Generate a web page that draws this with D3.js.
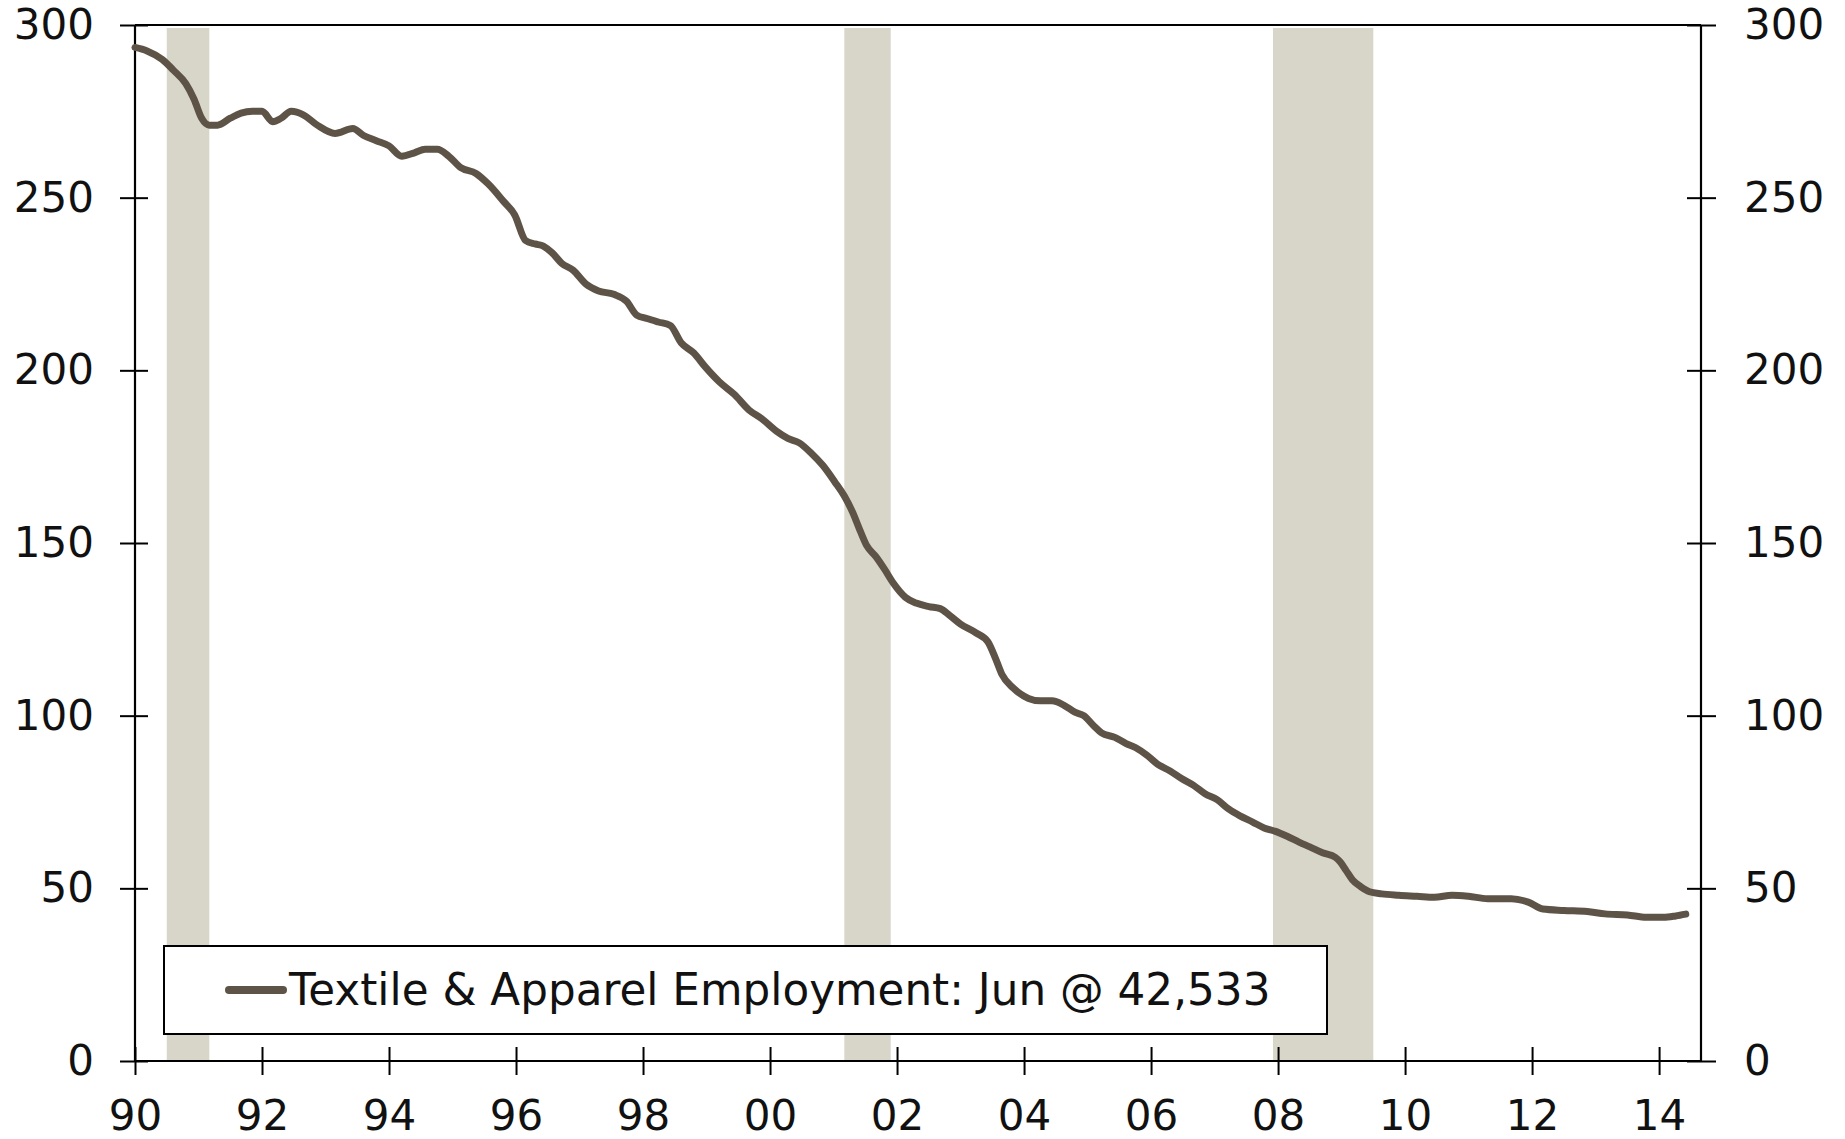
<!DOCTYPE html>
<html>
<head>
<meta charset="utf-8">
<script src="https://cdn.jsdelivr.net/npm/d3@7"></script>
<style>
	body { margin: 0; background: #fff; }
	svg { display: block; font-family: 'DejaVu Sans', Verdana, sans-serif; }
</style>
</head>
<body>
<svg id="canvas"></svg>
<script>
// decimal year of each point
const years = [
	1990.0, 1990.19, 1990.43, 1990.6, 1990.8, 1990.93, 1991.05, 1991.17, 1991.3, 1991.5,
	1991.67, 1991.85, 1992.0, 1992.17, 1992.3, 1992.46, 1992.65, 1992.87, 1993.15, 1993.43,
	1993.6, 1993.8, 1994.0, 1994.2, 1994.4, 1994.57, 1994.76, 1994.94, 1995.13, 1995.37,
	1995.56, 1995.8, 1995.98, 1996.15, 1996.3, 1996.43, 1996.57, 1996.72, 1996.9, 1997.1,
	1997.3, 1997.54, 1997.74, 1997.9, 1998.06, 1998.24, 1998.43, 1998.6, 1998.8, 1998.98,
	1999.2, 1999.44, 1999.67, 1999.87, 2000.1, 2000.28, 2000.46, 2000.65, 2000.83, 2001.02,
	2001.17, 2001.31, 2001.4, 2001.52, 2001.67, 2001.8, 2001.94, 2002.13, 2002.3, 2002.5,
	2002.68, 2002.83, 2003.0, 2003.24, 2003.43, 2003.55, 2003.65, 2003.83, 2004.07, 2004.26,
	2004.44, 2004.63, 2004.8, 2004.94, 2005.1, 2005.22, 2005.43, 2005.6, 2005.76, 2005.93,
	2006.1, 2006.3, 2006.48, 2006.67, 2006.85, 2007.04, 2007.22, 2007.4, 2007.6, 2007.78,
	2007.96, 2008.15, 2008.33, 2008.5, 2008.7, 2008.9, 2008.98, 2009.07, 2009.17, 2009.3,
	2009.44, 2009.63, 2009.9, 2010.19, 2010.46, 2010.74, 2011.0, 2011.3, 2011.67, 2011.94,
	2012.17, 2012.5, 2012.87, 2013.15, 2013.5, 2013.8, 2014.07, 2014.26, 2014.42
];
// employment, thousands
const employment = [
	293.5, 292.5, 290, 287, 283, 278.5, 273, 271, 271, 273,
	274.5, 275, 275, 272, 273, 275, 274, 271, 268.6, 270,
	268, 266.5, 265, 262, 263, 264, 264, 262, 258.7, 257,
	254, 249, 245, 237.6, 236.6, 236, 234, 231, 229, 225,
	223, 222, 220, 216, 215, 214, 213, 208, 205, 201,
	196.7, 193, 188.5, 186, 182.4, 180.3, 179, 176, 172.5, 167.7,
	163.6, 158.5, 154.4, 149.3, 146, 142.5, 138.4, 134.3, 132.6, 131.6,
	131, 129, 126.5, 124, 121.4, 116.6, 112, 108, 105, 104.3,
	104.3, 103, 101, 100, 97, 95, 93.7, 92, 90.7, 88.6,
	86, 84, 81.8, 79.8, 77.4, 75.7, 73, 71, 69.2, 67.5,
	66.5, 65, 63.4, 62, 60.3, 59, 57.6, 55.2, 52.5, 50.5,
	49, 48.4, 48, 47.7, 47.4, 48, 47.7, 47, 47, 46,
	44, 43.6, 43.3, 42.6, 42.3, 41.6, 41.6, 42, 42.533
];
// recessions: start / end in decimal years
const recessionStart = [1990.5, 2001.17, 2007.92];
const recessionEnd = [1991.17, 2001.9, 2009.5];

const xTicks = [1990, 1992, 1994, 1996, 1998, 2000, 2002, 2004, 2006, 2008, 2010, 2012, 2014];
const yTicks = [0, 50, 100, 150, 200, 250, 300];
const legendLabel = 'Textile & Apparel Employment: Jun @ 42,533';

const w = 1845;
const h = 1139;
const plotLeft = 135, plotRight = 1701, plotTop = 25, plotBottom = 1061;

const svg = d3.select('#canvas').attr('width', w).attr('height', h);

const x = d3.scaleLinear().domain([1990, 2014.66]).range([plotLeft, plotRight]);
const y = d3.scaleLinear().domain([0, 300]).range([plotBottom, plotTop]);

// recession bars
svg.selectAll('rect.rec')
	.data(recessionStart)
	.enter()
	.append('rect')
	.attr('class', 'rec')
	.attr('x', (d) => x(d))
	.attr('width', (d, i) => x(recessionEnd[i]) - x(d))
	.attr('y', plotTop + 3)
	.attr('height', plotBottom - plotTop - 3)
	.attr('fill', '#d8d5c9');

// top frame line
svg.append('line')
	.attr('x1', plotLeft).attr('x2', plotRight)
	.attr('y1', plotTop).attr('y2', plotTop)
	.attr('stroke', '#000').attr('stroke-width', 2);

const yLeft = d3.axisLeft(y).tickValues(yTicks).tickSize(15).tickPadding(26);
const yRight = d3.axisRight(y).tickValues(yTicks).tickSize(15).tickPadding(28);
const xAxis = d3.axisBottom(x).tickValues(xTicks).tickSize(14).tickPadding(25)
	.tickFormat((d) => String(d % 100).padStart(2, '0'));

const gl = svg.append('g').attr('transform', 'translate(' + plotLeft + ',0)').call(yLeft);
gl.selectAll('.tick line').attr('x1', 13);
const gr = svg.append('g').attr('transform', 'translate(' + plotRight + ',0)').call(yRight);
gr.selectAll('.tick line').attr('x1', -14);
const gx = svg.append('g').attr('transform', 'translate(0,' + plotBottom + ')').call(xAxis);
gx.selectAll('.tick line').attr('y1', -14);

[gl, gr, gx].forEach((g) => {
	g.selectAll('.domain').attr('stroke', '#000').attr('stroke-width', 2.2);
	g.selectAll('.tick line').attr('stroke', '#000').attr('stroke-width', 2);
	g.selectAll('.tick text').attr('font-size', 42).attr('fill', '#111').attr('font-family', 'DejaVu Sans');
});
// axis lines without the end caps d3 adds
gl.select('.domain').attr('d', 'M0,' + plotTop + 'V' + plotBottom);
gr.select('.domain').attr('d', 'M0,' + plotTop + 'V' + plotBottom);
gx.select('.domain').attr('d', 'M' + plotLeft + ',0H' + plotRight);
gx.selectAll('.tick text').attr('dy', '0.71em');

// the series
const line = d3.line()
	.x((d, i) => x(years[i]))
	.y((d) => y(d))
	.curve(d3.curveMonotoneX);

svg.append('path')
	.datum(employment)
	.attr('d', line)
	.attr('fill', 'none')
	.attr('stroke', '#5e5347')
	.attr('stroke-width', 7)
	.attr('stroke-linejoin', 'round')
	.attr('stroke-linecap', 'round');

// legend
const legend = svg.append('g');
legend.append('rect')
	.attr('x', 164).attr('y', 946)
	.attr('width', 1163).attr('height', 88)
	.attr('fill', '#fff')
	.attr('stroke', '#000').attr('stroke-width', 2);
legend.append('line')
	.attr('x1', 229).attr('x2', 283)
	.attr('y1', 990).attr('y2', 990)
	.attr('stroke', '#5e5347').attr('stroke-width', 8)
	.attr('stroke-linecap', 'round');
legend.append('text')
	.attr('x', 289).attr('y', 1005)
	.attr('font-size', 43.7)
	.attr('fill', '#111')
	.text(legendLabel);
</script>
</body>
</html>
